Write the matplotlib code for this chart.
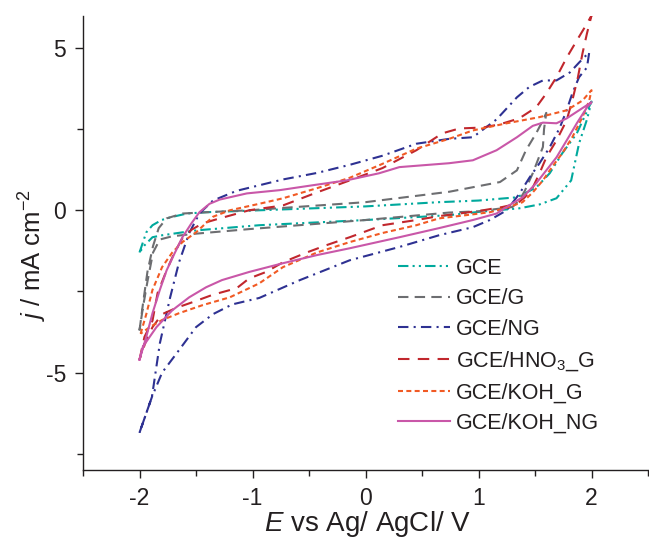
import matplotlib
matplotlib.use("Agg")
import matplotlib.pyplot as plt

plt.rcParams['font.family'] = ['Liberation Sans', 'DejaVu Sans']
plt.rcParams['mathtext.fontset'] = 'custom'
plt.rcParams['mathtext.rm'] = 'Liberation Sans'
plt.rcParams['mathtext.it'] = 'Liberation Sans:italic'
plt.rcParams['axes.unicode_minus'] = False

# ---- data (E in V, j in mA cm^-2), each loop: forward then reverse ----
gce_E = [-2.0, -1.94, -1.885, -1.805, -1.73, -1.58, -1.41, -0.94, 0.0, 0.65, 1.0, 1.34, 1.51, 1.63, 1.74, 1.87, 2.0,
         1.96, 1.89, 1.82, 1.69, 1.54, 1.36, 1.0, 0.74, 0.0, -0.94, -1.5, -1.8, -1.885, -1.956, -2.0]
gce_j = [-1.3, -0.68, -0.46, -0.3, -0.22, -0.1, -0.06, 0.0, 0.12, 0.25, 0.3, 0.4, 0.7, 1.14, 1.75, 2.37, 3.35,
         2.8, 2.06, 0.92, 0.37, 0.18, 0.06, -0.05, -0.15, -0.3, -0.46, -0.62, -0.77, -0.83, -1.08, -1.3]

g_E = [-2.0, -1.97, -1.93, -1.88, -1.83, -1.76, -1.62, -1.35, -1.03, 0.0, 0.74, 1.19, 1.34, 1.42, 1.51, 1.57, 1.6,
       1.58, 1.57, 1.48, 1.41, 1.36, 1.3, 1.0, 0.74, 0.0, -1.03, -1.5, -1.71, -1.82, -1.88, -1.93, -1.97, -2.0]
g_j = [-3.7, -2.9, -1.9, -1.1, -0.55, -0.25, -0.1, -0.05, 0.0, 0.25, 0.57, 0.87, 1.23, 1.85, 2.37, 2.77, 3.0,
       2.5, 1.95, 1.14, 0.6, 0.3, 0.1, -0.03, -0.07, -0.3, -0.58, -0.72, -0.8, -0.9, -1.3, -2.2, -3.0, -3.7]

ng_E = [-2.0, -1.89, -1.82, -1.73, -1.65, -1.56, -1.47, -1.35, -1.14, -0.94, -0.73, -0.43, -0.14, 0.15, 0.45, 0.74,
        0.95, 1.16, 1.34, 1.45, 1.57, 1.69, 1.81, 1.89, 1.98,
        1.96, 1.89, 1.83, 1.78, 1.72, 1.63, 1.54, 1.45, 1.36, 1.25, 1.1, 0.95, 0.65, 0.3, -0.14, -0.58, -0.94,
        -1.18, -1.35, -1.5, -1.67, -1.8, -1.89, -2.0]
ng_j = [-6.85, -5.75, -4.1, -2.7, -1.6, -0.7, -0.1, 0.3, 0.6, 0.77, 0.95, 1.15, 1.4, 1.68, 2.05, 2.2,
        2.25, 2.8, 3.48, 3.8, 4.0, 4.0, 4.25, 4.55, 4.87,
        4.4, 4.1, 3.6, 3.08, 2.55, 1.94, 1.45, 1.0, 0.5, 0.0, -0.3, -0.52, -0.77, -1.13, -1.54, -2.15, -2.7,
        -2.9, -3.2, -3.6, -4.4, -5.0, -5.75, -6.85]

hno3_E = [-2.0, -1.956, -1.885, -1.84, -1.76, -1.69, -1.62, -1.54, -1.44, -1.29, -1.03, -0.73, -0.43, -0.14, 0.15,
          0.45, 0.68, 0.83, 1.04, 1.19, 1.36, 1.51, 1.6, 1.69, 1.78, 1.87, 1.96, 2.0,
          1.96, 1.92, 1.88, 1.83, 1.78, 1.69, 1.6, 1.54, 1.48, 1.41, 1.34, 1.21, 1.04, 0.83, 0.65, 0.45, 0.15,
          -0.14, -0.35, -0.52, -0.73, -0.88, -1.03, -1.14, -1.35, -1.53, -1.67, -1.8, -1.885, -1.94, -2.0]
hno3_j = [-4.6, -3.9, -3.4, -2.55, -1.85, -1.3, -0.86, -0.6, -0.4, -0.25, 0.0, 0.15, 0.55, 0.92, 1.3,
          1.85, 2.37, 2.52, 2.55, 2.65, 2.83, 3.17, 3.6, 4.1, 4.7, 5.23, 5.75, 6.0,
          5.45, 4.83, 4.1, 3.38, 2.77, 2.15, 1.63, 1.14, 0.7, 0.4, 0.2, 0.1, 0.0, -0.1, -0.18, -0.3, -0.46,
          -0.83, -1.08, -1.3, -1.6, -1.9, -2.1, -2.4, -2.6, -2.83, -3.0, -3.2, -3.6, -4.0, -4.6]

kohg_E = [-1.99, -1.94, -1.885, -1.8, -1.71, -1.62, -1.5, -1.35, -1.2, -0.94, -0.73, -0.43, -0.14, 0.15, 0.45,
          0.74, 0.95, 1.25, 1.54, 1.78, 1.92, 2.0,
          1.98, 1.92, 1.83, 1.74, 1.65, 1.57, 1.48, 1.39, 1.27, 1.1, 0.89, 0.65, 0.45, 0.15, -0.14, -0.43,
          -0.73, -0.94, -1.2, -1.44, -1.65, -1.8, -1.91, -1.99]
kohg_j = [-3.8, -3.2, -2.45, -1.75, -1.3, -0.98, -0.68, -0.2, 0.0, 0.2, 0.37, 0.68, 1.0, 1.43, 1.9,
          2.2, 2.46, 2.68, 2.87, 3.08, 3.38, 3.7,
          3.38, 2.87, 2.25, 1.75, 1.33, 0.92, 0.55, 0.25, 0.1, -0.06, -0.15, -0.25, -0.46, -0.7, -0.98, -1.3,
          -1.75, -2.25, -2.68, -2.92, -3.17, -3.38, -3.6, -3.8]

kohng_E = [-2.0, -1.94, -1.885, -1.82, -1.76, -1.69, -1.62, -1.54, -1.47, -1.38, -1.29, -1.05, -0.76, -0.47,
           -0.17, 0.12, 0.3, 0.74, 0.95, 1.16, 1.34, 1.48, 1.57, 1.69, 1.78, 1.89, 2.0,
           1.96, 1.87, 1.78, 1.69, 1.6, 1.51, 1.39, 1.27, 1.16, 0.95, 0.65, 0.3, -0.14, -0.43, -0.73, -1.03,
           -1.27, -1.41, -1.56, -1.71, -1.85, -1.97, -2.0]
kohng_j = [-4.6, -3.9, -3.17, -2.45, -1.85, -1.33, -0.83, -0.4, -0.06, 0.2, 0.33, 0.52, 0.62, 0.77,
           0.92, 1.14, 1.33, 1.45, 1.54, 1.85, 2.25, 2.6, 2.7, 2.68, 2.83, 3.08, 3.33,
           3.17, 2.68, 2.15, 1.63, 1.23, 0.83, 0.4, 0.15, -0.1, -0.3, -0.55, -0.83, -1.17, -1.38, -1.63, -1.9,
           -2.15, -2.37, -2.68, -3.08, -3.6, -4.2, -4.6]

labels = ['GCE', 'GCE/G', 'GCE/NG', 'GCE/HNO$_3$_G', 'GCE/KOH_G', 'GCE/KOH_NG']
x_ticks = [-2, -1, 0, 1, 2]
y_ticks = [-5, 0, 5]

W, H = 649, 540
fig = plt.figure(figsize=(W / 100, H / 100), dpi=100)
ax = fig.add_axes([83 / W, 1 - 470 / H, 565 / W, (470 - 15.5) / H])

lw = 1.5
ax.plot(gce_E, gce_j, color='#00a99d', lw=lw, ls=(0, (5, 2, 1, 2, 1, 2)), label=labels[0])
ax.plot(g_E, g_j, color='#6d6e71', lw=lw, ls=(0, (5, 3)), label=labels[1])
ax.plot(ng_E, ng_j, color='#2e3192', lw=lw, ls=(0, (5, 2.5, 1, 2.5)), label=labels[2])
ax.plot(hno3_E, hno3_j, color='#c1272d', lw=lw, ls=(0, (5.5, 4)), label=labels[3])
ax.plot(kohg_E, kohg_j, color='#f15a24', lw=lw, ls=(0, (2.4, 1.6)), label=labels[4])
ax.plot(kohng_E, kohng_j, color='#c957a8', lw=lw, ls='-', label=labels[5])

ax.set_xlim(-2.5, 2.5)
ax.set_ylim(-8, 6)
ax.set_xticks(x_ticks)
ax.set_xticks([-2.5, -1.5, -0.5, 0.5, 1.5, 2.5], minor=True)
ax.set_yticks(y_ticks)
ax.set_yticks([-7.5, -2.5, 2.5], minor=True)
ax.spines['top'].set_visible(False)
ax.spines['right'].set_visible(False)
for s in ('left', 'bottom'):
    ax.spines[s].set_linewidth(1.0)
    ax.spines[s].set_color('#231f20')
ax.tick_params(axis='both', which='major', direction='out', length=6, width=1.0,
               labelsize=16.5, colors='#231f20', pad=6)
ax.tick_params(axis='both', which='minor', direction='out', length=4, width=1.0, colors='#231f20')

fig.text(367 / W, 1 - 531 / H, '$\\mathit{E}$ vs Ag/ AgCl/ V', fontsize=20, color='#231f20',
         ha='center', va='baseline')
fig.text(33 / W, 1 - 255 / H, '$\\mathit{j}$ / mA cm$^{-2}$', fontsize=18.5, color='#231f20',
         ha='center', va='center', rotation=90)

leg = fig.legend(loc='upper left', bbox_to_anchor=(398 / W, 1 - 258 / H), frameon=False,
                 fontsize=15.5, handlelength=2.4, handletextpad=0.3, labelspacing=0.44,
                 borderpad=0, borderaxespad=0)
for t in leg.get_texts():
    t.set_color('#231f20')

fig.savefig('out.png', dpi=100)
